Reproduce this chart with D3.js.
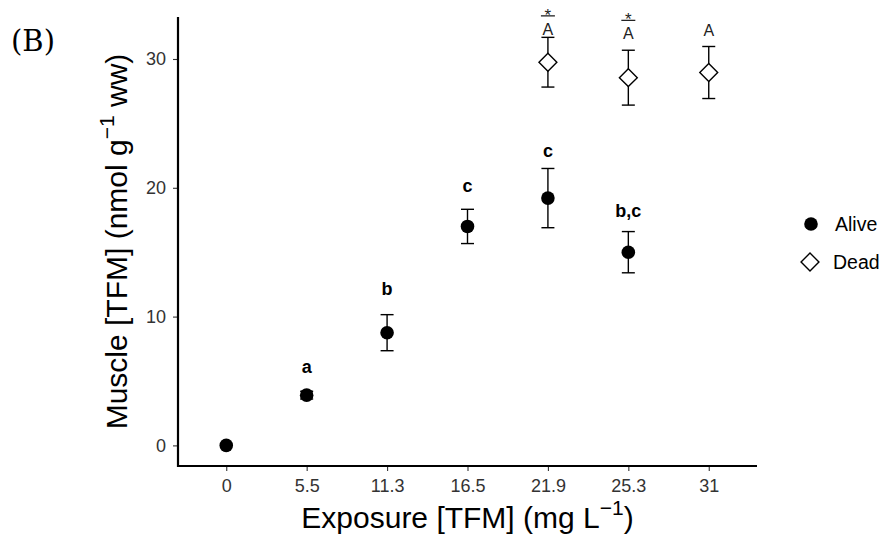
<!DOCTYPE html>
<meta charset="utf-8">
<style>
body { margin: 0; background: #fff; }
text { font-family: "Liberation Sans", Arial, sans-serif; }
</style>
<svg width="885" height="548"></svg>
<script src="https://d3js.org/d3.v7.min.js"></script>
<script>

var doses = ["0", "5.5", "11.3", "16.5", "21.9", "25.3", "31"];

// alive fish
var alive_dose = ["0", "5.5", "11.3", "16.5", "21.9", "25.3"];
var alive_mean = [0, 3.9, 8.75, 17.0, 19.2, 15.0];
var alive_se   = [0, 0.3, 1.4, 1.33, 2.3, 1.6];
var alive_lab  = ["", "a", "b", "c", "c", "b,c"];
var alive_laby = [null, 6.15, 12.2, 20.15, 22.9, 18.2];

// dead fish
var dead_dose = ["21.9", "25.3", "31"];
var dead_mean = [29.75, 28.55, 28.95];
var dead_se   = [1.93, 2.13, 2.02];
var dead_lab  = ["A", "A", "A"];
var dead_star = [true, true, false];
var dead_laby = [32.3, 31.95, 32.2];

var y_ticks = [0, 10, 20, 30];

var svg = d3.select("svg"),
    pLeft = 178, pRight = 757, pTop = 17, pBottom = 466;

var x = d3.scalePoint()
    .domain(doses)
    .range([pLeft, pRight])
    .padding(0.6);

var y = d3.scaleLinear()
    .domain([-1.6, 33.26])
    .range([pBottom, pTop]);

// axes
var xAxis = svg.append("g")
    .attr("transform", "translate(0," + pBottom + ")")
    .call(d3.axisBottom(x).tickSize(5).tickPadding(8))
    .attr("font-size", 18)
    .attr("font-family", "Liberation Sans, Arial, sans-serif");
xAxis.select(".domain").remove();

var yAxis = svg.append("g")
    .attr("transform", "translate(" + pLeft + ",0)")
    .call(d3.axisLeft(y).tickValues(y_ticks).tickSize(5).tickPadding(7))
    .attr("font-size", 18)
    .attr("font-family", "Liberation Sans, Arial, sans-serif");
yAxis.select(".domain").remove();

svg.selectAll(".tick text")
    .attr("fill", "#333")
    .attr("font-size", 18);
svg.selectAll(".tick line")
    .attr("stroke", "#333")
    .attr("stroke-width", 1.1);

svg.append("line")
    .attr("x1", pLeft).attr("x2", pLeft)
    .attr("y1", pTop).attr("y2", pBottom + 1)
    .attr("stroke", "#000").attr("stroke-width", 2.2);
svg.append("line")
    .attr("x1", pLeft - 1).attr("x2", pRight)
    .attr("y1", pBottom).attr("y2", pBottom)
    .attr("stroke", "#000").attr("stroke-width", 2.2);

// error bars
function errorbars(dose, mean, se) {
  var g = svg.append("g").attr("stroke", "#000").attr("stroke-width", 1.4);
  dose.forEach(function(d, i) {
    if (se[i] <= 0) return;
    var cx = x(d), y1 = y(mean[i] + se[i]), y0 = y(mean[i] - se[i]);
    g.append("line").attr("x1", cx).attr("x2", cx).attr("y1", y1).attr("y2", y0);
    g.append("line").attr("x1", cx - 6.5).attr("x2", cx + 6.5).attr("y1", y1).attr("y2", y1);
    g.append("line").attr("x1", cx - 6.5).attr("x2", cx + 6.5).attr("y1", y0).attr("y2", y0);
  });
}
errorbars(alive_dose, alive_mean, alive_se);
errorbars(dead_dose, dead_mean, dead_se);

var diamond = d3.symbol().type(d3.symbolSquare).size(160);

svg.append("g").selectAll("circle")
  .data(alive_dose)
  .enter().append("circle")
    .attr("cx", function(d) { return x(d); })
    .attr("cy", function(d, i) { return y(alive_mean[i]); })
    .attr("r", 6.8)
    .attr("fill", "#000");

svg.append("g").selectAll("path")
  .data(dead_dose)
  .enter().append("path")
    .attr("d", diamond)
    .attr("transform", function(d, i) { return "translate(" + x(d) + "," + y(dead_mean[i]) + ") rotate(45)"; })
    .attr("fill", "#fff")
    .attr("stroke", "#000")
    .attr("stroke-width", 1.4);

// significance letters
svg.append("g").selectAll("text")
  .data(alive_dose)
  .enter().append("text")
    .filter(function(d, i) { return alive_lab[i] !== ""; })
    .attr("x", function(d) { return x(d); })
    .attr("y", function(d) { return y(alive_laby[alive_dose.indexOf(d)]) + 6.5; })
    .attr("text-anchor", "middle")
    .attr("font-weight", "bold")
    .attr("font-size", 18)
    .text(function(d) { return alive_lab[alive_dose.indexOf(d)]; });

var dl = svg.append("g").selectAll("g")
  .data(dead_dose)
  .enter().append("g")
    .attr("transform", function(d, i) { return "translate(" + x(d) + "," + y(dead_laby[i]) + ")"; });
dl.append("text")
    .attr("y", 5.5)
    .attr("text-anchor", "middle")
    .attr("font-size", 16)
    .attr("fill", "#222")
    .text(function(d, i) { return dead_lab[i]; });
dl.filter(function(d, i) { return dead_star[i]; })
  .append("line")
    .attr("x1", -7).attr("x2", 7).attr("y1", -13.5).attr("y2", -13.5)
    .attr("stroke", "#222").attr("stroke-width", 1.3);
dl.filter(function(d, i) { return dead_star[i]; })
  .append("text")
    .attr("y", -8.5)
    .attr("text-anchor", "middle")
    .attr("font-size", 17)
    .attr("fill", "#222")
    .text("*");

// axis titles
var xt = svg.append("text")
    .attr("x", (pLeft + pRight) / 2)
    .attr("y", 528)
    .attr("text-anchor", "middle")
    .attr("font-size", 30);
xt.append("tspan").text("Exposure [TFM] (mg L");
xt.append("tspan").attr("font-size", 21).attr("dy", -13).text("\u22121");
xt.append("tspan").attr("dy", 13).text(")");

var yt = svg.append("text")
    .attr("transform", "translate(127," + ((pTop + pBottom) / 2) + ") rotate(-90)")
    .attr("text-anchor", "middle")
    .attr("font-size", 30);
yt.append("tspan").text("Muscle [TFM] (nmol g");
yt.append("tspan").attr("font-size", 21).attr("dy", -13).text("\u22121");
yt.append("tspan").attr("dy", 13).text(" ww)");

// panel tag
svg.append("text")
    .attr("x", 11).attr("y", 51)
    .style("font-family", "'DejaVu Serif', 'Liberation Serif', serif")
    .attr("font-size", 29)
    .text("(B)");

// legend
var leg = svg.append("g");
leg.append("circle").attr("cx", 811).attr("cy", 224).attr("r", 6.8).attr("fill", "#000");
leg.append("path").attr("d", diamond)
    .attr("transform", "translate(810,262) rotate(45)")
    .attr("fill", "#fff").attr("stroke", "#000").attr("stroke-width", 1.4);
leg.append("text").attr("x", 835).attr("y", 231).attr("font-size", 19.5).text("Alive");
leg.append("text").attr("x", 833).attr("y", 269).attr("font-size", 19.5).text("Dead");

</script>
